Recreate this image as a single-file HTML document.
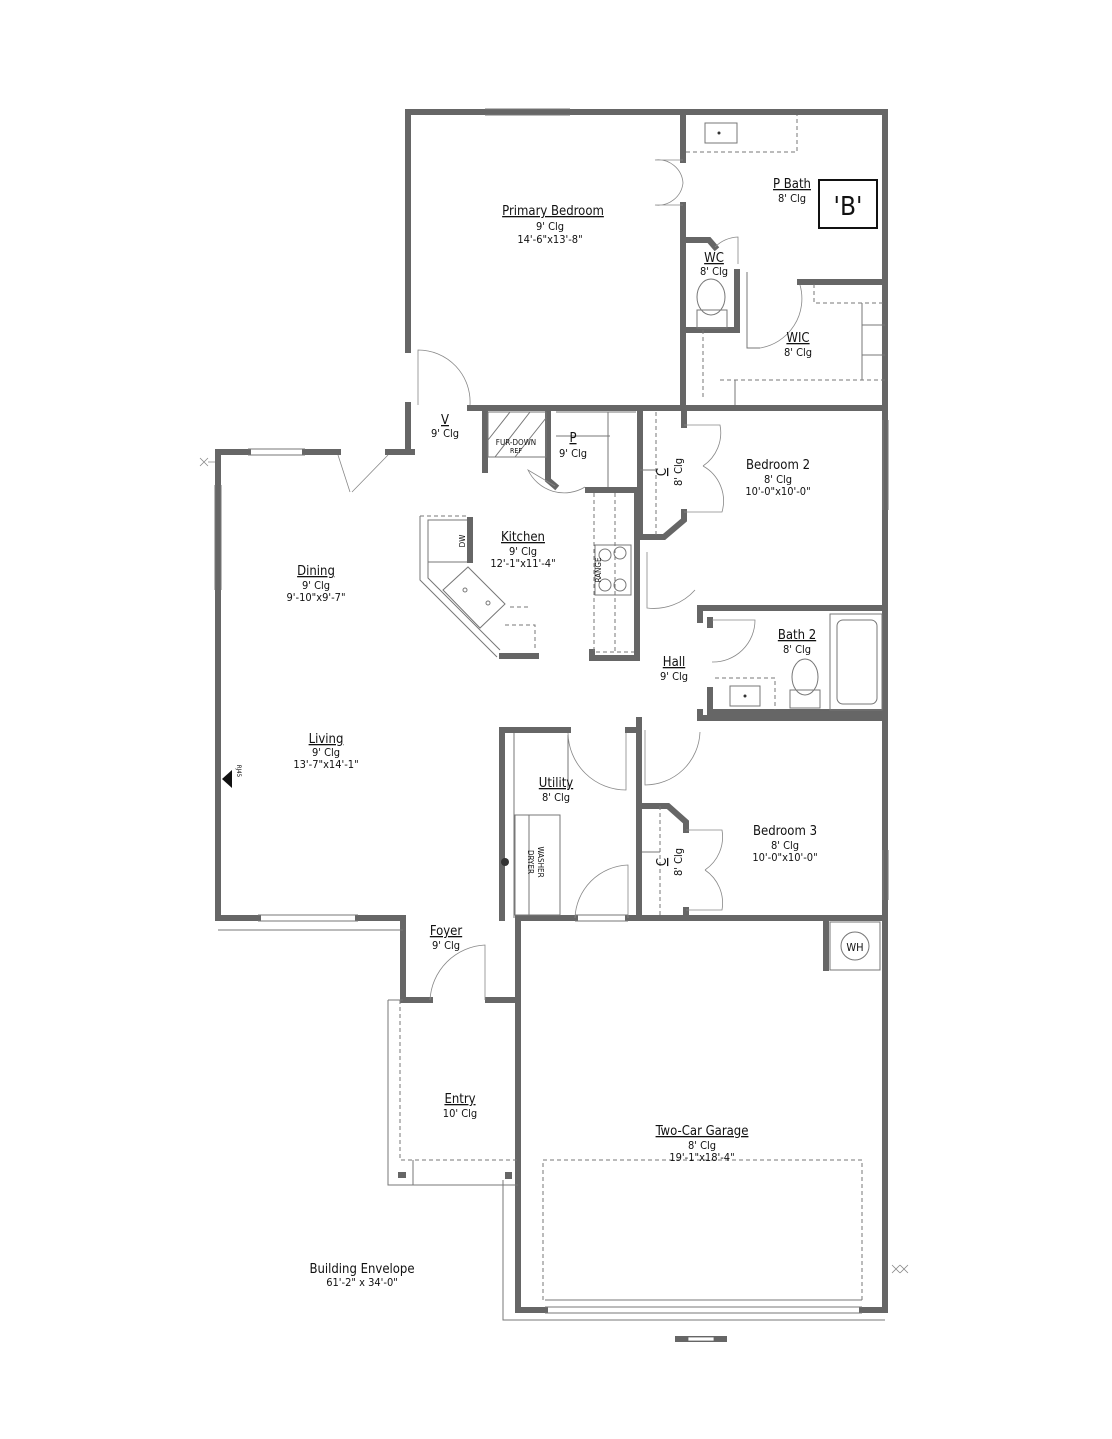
<!DOCTYPE html>
<html><head><meta charset="utf-8"><style>
html,body{margin:0;padding:0;background:#fff;}
svg{display:block}
text{font-family:"DejaVu Sans Condensed","Liberation Sans",sans-serif;fill:#111;text-anchor:middle}
.t{font-size:13px}
.s{font-size:11px}
.w{stroke:#666;stroke-width:6;fill:none;stroke-linecap:square}
.th{stroke:#777;stroke-width:1;fill:none}
.d{stroke:#777;stroke-width:1;fill:none;stroke-dasharray:4 3}
.a{stroke:#888;stroke-width:0.8;fill:none}
</style></head><body>
<svg width="1112" height="1439" viewBox="0 0 1112 1439" xmlns="http://www.w3.org/2000/svg">
<rect width="1112" height="1439" fill="#fff"/>
<!-- exterior walls -->
<path class="w" d="M408 350 V112 H885 V915"/>
<path class="w" d="M408 405 V452 H412"/>
<path class="w" d="M218 452 H248 M305 452 H338 M388 452 H408"/>
<path class="th" d="M248 449 H305 M248 455 H305"/>
<path class="w" d="M218 452 V918 H258 M358 918 H403 V1000 H430 M488 1000 H518"/>
<path class="th" d="M258 915 H358 M258 921 H358 M258 930 H358 M218 930 H258 M358 930 H403"/>
<path class="th" d="M215 485 V590 M221 485 V590"/>
<path class="th" d="M485 109 H570 M485 115 H570"/>
<!-- primary bedroom bottom -->
<path class="w" d="M470 408 H885"/>
<!-- garage -->
<path class="w" d="M518 922 V1310 H545 M862 1310 H885 V918"/>
<path class="th" d="M545 1300 H862 M545 1307 H862 M545 1313 H862"/>
<path class="d" d="M543 1300 V1160 H862 V1300"/>
<path class="th" d="M503 1180 V1320 H885"/>
<path class="w" d="M518 918 H575 M628 918 H885"/>
<path class="th" d="M575 915 H628 M575 921 H628"/>
<rect x="830" y="922" width="50" height="48" class="th"/>
<path class="w" d="M826 922 V968"/>
<circle cx="855" cy="946" r="14" class="th"/>
<text x="855" y="951" class="s">WH</text>
<!-- entry porch -->
<path class="th" d="M388 1000 V1185 H518 M388 1000 H403"/>
<path class="d" d="M400 1000 V1160 H518"/>
<path class="th" d="M413 1160 V1185"/>
<rect x="398" y="1172" width="8" height="6" fill="#666"/>
<rect x="505" y="1172" width="7" height="7" fill="#666"/>
<!-- foyer door -->
<path class="a" d="M430 1000 A58 58 0 0 1 485 945 V1000"/>
<!-- utility -->
<path class="w" d="M502 918 V730 H568 M628 730 H636"/>
<path class="w" d="M639 918 V720"/>
<path class="th" d="M514 733 V918 M568 735 V790"/>
<rect x="515" y="815" width="45" height="100" class="th"/>
<path class="th" d="M529 815 V915"/>
<text x="0" y="0" class="s" transform="translate(538 862) rotate(90)" style="font-size:8px">WASHER</text>
<text x="0" y="0" class="s" transform="translate(528 862) rotate(90)" style="font-size:8px">DRYER</text>
<circle cx="505" cy="862" r="4" fill="#333"/>
<path class="a" d="M568 733 A58 58 0 0 0 626 790 V733 M575 918 A55 55 0 0 1 628 865 V918"/>
<!-- bedroom 3 -->
<path class="w" d="M700 718 H885"/>
<path class="w" d="M642 806 H668 L686 822 V830 M686 910 V918"/>
<path class="d" d="M660 806 V915"/>
<path class="th" d="M642 852 H660"/>
<path class="a" d="M686 830 H722 A40 40 0 0 1 705 870 M686 910 H722 A40 40 0 0 0 705 870"/>
<path class="th" d="M883 850 V900 M888 850 V900"/>
<!-- hall door to bed3 -->
<path class="a" d="M645 730 V785 A55 55 0 0 0 700 732"/>
<!-- hall -->
<path class="w" d="M700 608 V620 M700 712 V718 M710 712 V718"/>
<path class="a" d="M647 552 V608 A55 55 0 0 0 695 590"/>
<!-- bath 2 -->
<path class="w" d="M700 608 H885 M710 712 H885 M710 620 V625 M710 690 V712"/>
<path class="a" d="M712 620 H755 A42 42 0 0 1 712 662"/>
<path class="d" d="M715 678 H775 V710"/>
<rect x="730" y="686" width="30" height="20" class="th"/>
<circle cx="745" cy="696" r="1.5" fill="#333"/>
<rect x="790" y="690" width="30" height="18" class="th"/>
<ellipse cx="805" cy="677" rx="13" ry="18" class="th"/>
<rect x="830" y="614" width="52" height="96" class="th"/>
<rect x="837" y="620" width="40" height="84" rx="6" class="th"/>
<!-- bedroom 2 -->
<path class="w" d="M640 408 V537 H664 L684 520 V512 M684 408 V425"/>
<path class="d" d="M656 412 V537"/>
<path class="th" d="M640 470 H656"/>
<path class="a" d="M684 425 H720 A40 40 0 0 1 703 466 M684 512 H722 A40 40 0 0 0 703 466"/>
<path class="th" d="M883 420 V510 M888 420 V510"/>
<!-- kitchen -->
<path class="w" d="M485 408 V470 M548 410 V480 L555 486"/>
<rect x="488" y="412" width="58" height="45" class="th"/>
<path class="th" d="M495 457 L530 412 M515 457 L546 418 M488 440 L510 412"/>
<path class="th" d="M556 412 H636 M556 436 H610 M608 412 V488"/>
<path class="a" d="M555 486 L528 470 A40 40 0 0 0 585 487"/>
<path class="w" d="M588 490 H637 V658 H592 V652"/>
<path class="d" d="M594 493 V652 H634 M615 493 V652"/>
<rect x="595" y="545" width="36" height="50" class="th"/>
<circle cx="605" cy="555" r="6" class="th"/><circle cx="620" cy="553" r="6" class="th"/>
<circle cx="605" cy="585" r="6" class="th"/><circle cx="620" cy="585" r="6" class="th"/>
<text x="0" y="0" transform="translate(601 570) rotate(-90)" style="font-size:8px">RANGE</text>
<!-- island -->
<path class="d" d="M420 516 H468 V560"/>
<path class="th" d="M420 516 V580 L497 657 M428 520 V578 L500 650"/>
<rect x="428" y="520" width="42" height="42" class="th"/>
<path class="w" d="M470 520 V560"/>
<text x="0" y="0" transform="translate(465 541) rotate(-90)" style="font-size:8px">DW</text>
<path class="th" d="M443 590 L468 567 L505 604 L480 628 Z"/>
<circle cx="465" cy="590" r="2" class="th"/><circle cx="488" cy="603" r="2" class="th"/>
<path class="d" d="M505 625 H535 V650 M510 607 H530"/>
<path class="w" d="M502 656 H536"/>
<!-- V door -->
<path class="a" d="M418 405 V350 A52 52 0 0 1 470 405"/>
<!-- dining door -->
<path class="a" d="M338 455 L350 492 M388 455 L352 492"/>
<!-- primary bath area -->
<path class="w" d="M683 115 V160 M683 205 V408"/>
<path class="a" d="M683 160 H655 A25 25 0 0 1 683 183 A25 25 0 0 1 655 205 H683"/>
<path class="d" d="M686 152 H797 V115"/>
<rect x="705" y="123" width="32" height="20" class="th"/>
<circle cx="719" cy="133" r="1.5" fill="#333"/>
<rect x="819" y="180" width="58" height="48" fill="none" stroke="#111" stroke-width="2"/>
<text x="848" y="215" style="font-size:26px">'B'</text>
<!-- WC -->
<path class="w" d="M686 240 H709 L715 247 M737 272 V330 H686"/>
<path class="a" d="M715 247 A35 35 0 0 1 738 237 V264"/>
<ellipse cx="711" cy="297" rx="14" ry="18" class="th"/>
<rect x="697" y="310" width="30" height="18" class="th"/>
<path class="th" d="M747 272 V348 H760"/>
<path class="w" d="M800 282 H885"/>
<path class="a" d="M760 348 A50 50 0 0 0 800 285"/>
<path class="d" d="M814 284 V303 H885 M703 330 V400 M720 380 H885"/>
<path class="th" d="M862 303 V380 M862 325 H885 M862 355 H885 M735 380 V405"/>
<!-- misc symbols -->
<path d="M222 779 L232 770 L232 788 Z" fill="#111"/>
<text x="0" y="0" transform="translate(237 771) rotate(90)" style="font-size:6px">RJ45</text>
<path class="a" d="M200 458 L208 466 M200 466 L208 458 M208 462 H215"/>
<path class="a" d="M892 1265 L900 1273 M892 1273 L900 1265 M900 1265 L908 1273 M900 1273 L908 1265"/>
<rect x="675" y="1336" width="52" height="6" fill="#666"/>
<rect x="688" y="1337" width="26" height="4" fill="#fff" stroke="#666" stroke-width="0.8"/>
<!-- labels -->
<text x="553" y="215" class="t"><tspan text-decoration="underline">Primary Bedroom</tspan></text>
<text x="550" y="230" class="s">9' Clg</text>
<text x="550" y="243" class="s">14'-6"x13'-8"</text>
<text x="792" y="188" class="t"><tspan text-decoration="underline">P Bath</tspan></text>
<text x="792" y="202" class="s">8' Clg</text>
<text x="714" y="262" class="t"><tspan text-decoration="underline">WC</tspan></text>
<text x="714" y="275" class="s">8' Clg</text>
<text x="798" y="342" class="t"><tspan text-decoration="underline">WIC</tspan></text>
<text x="798" y="356" class="s">8' Clg</text>
<text x="445" y="424" class="t"><tspan text-decoration="underline">V</tspan></text>
<text x="445" y="437" class="s">9' Clg</text>
<text x="516" y="445" style="font-size:8px">FUR-DOWN</text>
<text x="516" y="453" style="font-size:7px">REF</text>
<text x="573" y="442" class="t"><tspan text-decoration="underline">P</tspan></text>
<text x="573" y="457" class="s">9' Clg</text>
<text x="0" y="0" class="t" transform="translate(666 472) rotate(-90)"><tspan text-decoration="underline">C</tspan></text>
<text x="0" y="0" class="s" transform="translate(682 472) rotate(-90)">8' Clg</text>
<text x="778" y="469" class="t">Bedroom 2</text>
<text x="778" y="483" class="s">8' Clg</text>
<text x="778" y="495" class="s">10'-0"x10'-0"</text>
<text x="523" y="541" class="t"><tspan text-decoration="underline">Kitchen</tspan></text>
<text x="523" y="555" class="s">9' Clg</text>
<text x="523" y="567" class="s">12'-1"x11'-4"</text>
<text x="316" y="575" class="t"><tspan text-decoration="underline">Dining</tspan></text>
<text x="316" y="589" class="s">9' Clg</text>
<text x="316" y="601" class="s">9'-10"x9'-7"</text>
<text x="797" y="639" class="t"><tspan text-decoration="underline">Bath 2</tspan></text>
<text x="797" y="653" class="s">8' Clg</text>
<text x="674" y="666" class="t"><tspan text-decoration="underline">Hall</tspan></text>
<text x="674" y="680" class="s">9' Clg</text>
<text x="326" y="743" class="t"><tspan text-decoration="underline">Living</tspan></text>
<text x="326" y="756" class="s">9' Clg</text>
<text x="326" y="768" class="s">13'-7"x14'-1"</text>
<text x="556" y="787" class="t"><tspan text-decoration="underline">Utility</tspan></text>
<text x="556" y="801" class="s">8' Clg</text>
<text x="785" y="835" class="t">Bedroom 3</text>
<text x="785" y="849" class="s">8' Clg</text>
<text x="785" y="861" class="s">10'-0"x10'-0"</text>
<text x="0" y="0" class="t" transform="translate(666 862) rotate(-90)"><tspan text-decoration="underline">C</tspan></text>
<text x="0" y="0" class="s" transform="translate(682 862) rotate(-90)">8' Clg</text>
<text x="446" y="935" class="t"><tspan text-decoration="underline">Foyer</tspan></text>
<text x="446" y="949" class="s">9' Clg</text>
<text x="460" y="1103" class="t"><tspan text-decoration="underline">Entry</tspan></text>
<text x="460" y="1117" class="s">10' Clg</text>
<text x="702" y="1135" class="t"><tspan text-decoration="underline">Two-Car Garage</tspan></text>
<text x="702" y="1149" class="s">8' Clg</text>
<text x="702" y="1161" class="s">19'-1"x18'-4"</text>
<text x="362" y="1273" class="t">Building Envelope</text>
<text x="362" y="1286" class="s">61'-2" x 34'-0"</text>
</svg>
</body></html>
